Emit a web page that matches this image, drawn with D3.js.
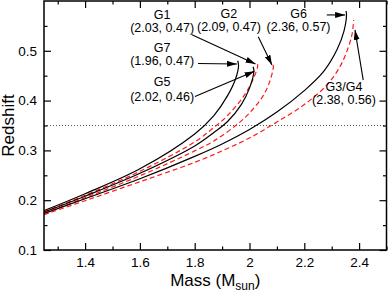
<!DOCTYPE html>
<html>
<head>
<meta charset="utf-8">
<script src="https://cdn.jsdelivr.net/npm/d3@7"></script>
<style>
  body { margin: 0; background: #fff; }
  text { font-family: "Liberation Sans", Arial, sans-serif; fill: #000; }
</style>
</head>
<body>
<svg id="chart" width="388" height="293"></svg>
<script>
// curve samples (mass in M_sun, redshift)
const g7Mass = [1.25, 1.4, 1.6, 1.8, 1.87, 1.92, 1.95, 1.96, 1.957];
const g7Z    = [0.179, 0.213, 0.263, 0.333, 0.370, 0.410, 0.445, 0.470, 0.480];
const g1Mass = [1.25, 1.4, 1.6, 1.8, 1.87, 1.92, 1.98, 2.015, 2.03, 2.028];
const g1Z    = [0.177, 0.210, 0.258, 0.317, 0.346, 0.370, 0.410, 0.445, 0.470, 0.476];
const g5Mass = [1.25, 1.4, 1.6, 1.8, 1.87, 1.92, 1.97, 2.0, 2.016, 2.013];
const g5Z    = [0.176, 0.208, 0.254, 0.309, 0.336, 0.358, 0.392, 0.425, 0.460, 0.468];
const g2Mass = [1.25, 1.4, 1.6, 1.8, 1.87, 1.95, 2.0, 2.05, 2.075, 2.087, 2.085];
const g2Z    = [0.174, 0.205, 0.249, 0.299, 0.319, 0.350, 0.375, 0.410, 0.440, 0.468, 0.474];
const g6Mass = [1.25, 1.4, 1.6, 1.8, 1.9, 2.0, 2.1, 2.2, 2.27, 2.32, 2.345, 2.354, 2.352];
const g6Z    = [0.173, 0.203, 0.243, 0.288, 0.313, 0.342, 0.377, 0.420, 0.458, 0.503, 0.540, 0.574, 0.580];
const g34Mass = [1.25, 1.4, 1.6, 1.8, 1.9, 2.0, 2.1, 2.2, 2.28, 2.33, 2.36, 2.375, 2.38];
const g34Z    = [0.171, 0.199, 0.237, 0.276, 0.299, 0.325, 0.357, 0.392, 0.430, 0.468, 0.506, 0.535, 0.562];

const xMajor = [1.4, 1.6, 1.8, 2.0, 2.2, 2.4];
const xMinor = [1.3, 1.5, 1.7, 1.9, 2.1, 2.3, 2.5];
const yMajor = [0.1, 0.2, 0.3, 0.4, 0.5];
const yMinor = [0.15, 0.25, 0.35, 0.45, 0.55];
const cutZ = 0.35;

// annotations: name, coordinate text, label anchor (mass, z), arrow tail and head
const labelNames  = ['G1', 'G7', 'G5', 'G2', 'G6', 'G3/G4'];
const labelCoords = ['(2.03, 0.47)', '(1.96, 0.47)', '(2.02, 0.46)', '(2.09, 0.47)', '(2.36, 0.57)', '(2.38, 0.56)'];
const labelMass   = [1.681, 1.681, 1.681, 1.925, 2.179, 2.345];
const labelZTop   = [0.564, 0.497, 0.429, 0.566, 0.566, 0.420];
const labelZBot   = [0.538, 0.471, 0.399, 0.539, 0.539, 0.393];
const arrowFrom   = [[1.790, 0.532], [1.812, 0.4745], [1.801, 0.408], [2.032, 0.528], [2.282, 0.572], [2.415, 0.441]];
const arrowTo     = [[2.022, 0.4735], [1.954, 0.4735], [2.018, 0.459], [2.082, 0.4715], [2.349, 0.572], [2.385, 0.542]];

const svg = d3.select('#chart');
const plotLeft = 44, plotRight = 386.5, plotTop = 1, plotBottom = 250;

const x = d3.scaleLinear().domain([1.25, 2.5]).range([plotLeft, plotRight]);
const y = d3.scaleLinear().domain([0.1, 0.6]).range([plotBottom, plotTop]);

const curves = [
  { m: g7Mass, z: g7Z, dashed: false },
  { m: g1Mass, z: g1Z, dashed: true },
  { m: g5Mass, z: g5Z, dashed: false },
  { m: g2Mass, z: g2Z, dashed: true },
  { m: g6Mass, z: g6Z, dashed: false },
  { m: g34Mass, z: g34Z, dashed: true }
];

const defs = svg.append('defs');
defs.append('clipPath').attr('id', 'plot')
  .append('rect').attr('x', plotLeft).attr('y', plotTop)
  .attr('width', plotRight - plotLeft).attr('height', plotBottom - plotTop);

defs.append('marker')
  .attr('id', 'head')
  .attr('markerUnits', 'userSpaceOnUse')
  .attr('markerWidth', 11).attr('markerHeight', 8)
  .attr('refX', 10).attr('refY', 3)
  .attr('orient', 'auto')
  .append('path').attr('d', 'M0,0 L10,3 L0,6 Z').attr('fill', '#000');

// dotted reference line
svg.append('line')
  .attr('x1', plotLeft).attr('x2', plotRight)
  .attr('y1', y(cutZ)).attr('y2', y(cutZ))
  .attr('stroke', '#555').attr('stroke-width', 1).attr('stroke-dasharray', '1,2');

const line = d3.line()
  .x((d) => x(d[0]))
  .y((d) => y(d[1]))
  .curve(d3.curveCatmullRom.alpha(0.5));

svg.append('g').attr('clip-path', 'url(#plot)')
  .selectAll('path')
  .data(curves)
  .join('path')
  .attr('d', (c) => line(c.m.map((m, i) => [m, c.z[i]])))
  .attr('fill', 'none')
  .attr('stroke', (c) => (c.dashed ? '#ff1a1a' : '#000'))
  .attr('stroke-width', 1.2)
  .attr('stroke-dasharray', (c) => (c.dashed ? '5,3' : null));

// axes, ticks pointing inward on all four sides
function tickAxis(axis, values, size, labels) {
  return axis.tickValues(values).tickSizeInner(-size).tickSizeOuter(0).tickPadding(7)
    .tickFormat(labels ? (d) => String(+d.toFixed(1)) : '');
}

const axes = [
  [d3.axisBottom(x), `translate(0,${plotBottom})`, xMajor, 7, true],
  [d3.axisBottom(x), `translate(0,${plotBottom})`, xMinor, 3.5, false],
  [d3.axisTop(x), `translate(0,${plotTop})`, xMajor, 7, false],
  [d3.axisTop(x), `translate(0,${plotTop})`, xMinor, 3.5, false],
  [d3.axisLeft(y), `translate(${plotLeft},0)`, yMajor, 7, true],
  [d3.axisLeft(y), `translate(${plotLeft},0)`, yMinor, 3.5, false],
  [d3.axisRight(y), `translate(${plotRight},0)`, yMajor, 7, false],
  [d3.axisRight(y), `translate(${plotRight},0)`, yMinor, 3.5, false]
];

axes.forEach(([axis, transform, values, size, labels]) => {
  const g = svg.append('g').attr('transform', transform)
    .call(tickAxis(axis, values, size, labels));
  g.select('.domain').remove();
  g.selectAll('line').attr('stroke', '#000').attr('stroke-width', 1.2);
  g.selectAll('text').style('font-size', '13.5px').attr('fill', '#000')
    .style('font-family', '"Liberation Sans", Arial, sans-serif');
});

svg.append('rect')
  .attr('x', plotLeft).attr('y', plotTop)
  .attr('width', plotRight - plotLeft).attr('height', plotBottom - plotTop)
  .attr('fill', 'none').attr('stroke', '#000').attr('stroke-width', 1.5);

// axis titles
const xt = svg.append('text')
  .attr('x', (plotLeft + plotRight) / 2).attr('y', 285.5)
  .attr('text-anchor', 'middle')
  .style('font-size', '17px');
xt.append('tspan').text('Mass (M');
xt.append('tspan').attr('dy', 4).style('font-size', '12px').text('sun');
xt.append('tspan').attr('dy', -4).text(')');

svg.append('text')
  .attr('transform', `translate(14,${(plotTop + plotBottom) / 2}) rotate(-90)`)
  .attr('text-anchor', 'middle')
  .style('font-size', '17px')
  .text('Redshift');

// annotation labels
const notes = svg.append('g').style('font-size', '12.5px').attr('text-anchor', 'middle');
labelNames.forEach((name, i) => {
  notes.append('text').attr('x', x(labelMass[i])).attr('y', y(labelZTop[i])).text(name);
  notes.append('text').attr('x', x(labelMass[i])).attr('y', y(labelZBot[i])).text(labelCoords[i]);
});

svg.append('g')
  .selectAll('line')
  .data(arrowFrom)
  .join('line')
  .attr('x1', (d) => x(d[0]))
  .attr('y1', (d) => y(d[1]))
  .attr('x2', (d, i) => x(arrowTo[i][0]))
  .attr('y2', (d, i) => y(arrowTo[i][1]))
  .attr('stroke', '#000')
  .attr('stroke-width', 1.1)
  .attr('marker-end', 'url(#head)');
</script>
</body>
</html>
